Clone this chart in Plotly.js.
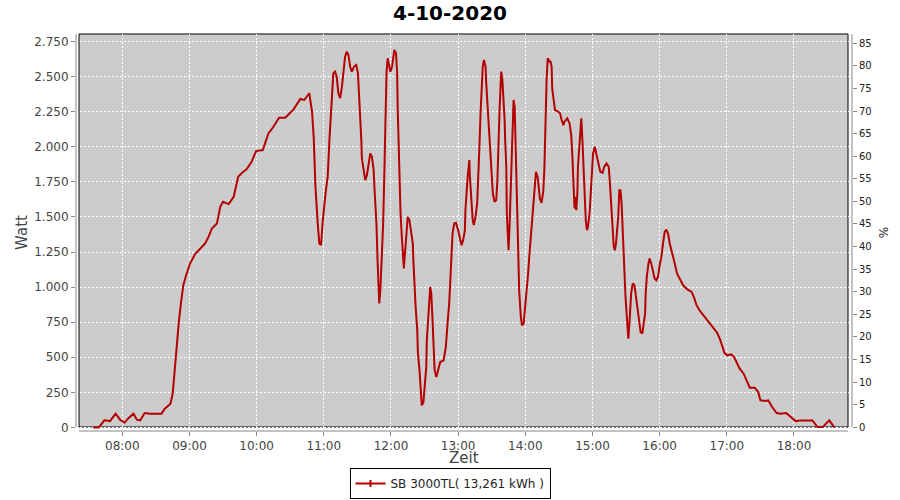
<!DOCTYPE html>
<html>
<head>
<meta charset="utf-8">
<script src="https://cdn.plot.ly/plotly-3.0.1.min.js"></script>
<style>html,body{margin:0;padding:0;background:#fff;}#chart{width:900px;height:500px;}</style>
</head>
<body>
<div id="chart"></div>
<script>
const day = '2020-10-04';
const times = ['07:34','07:39','07:44','07:49','07:54','07:58','08:02','08:05','08:10','08:13','08:16','08:20','08:25','08:35','08:38','08:43','08:45','08:46:30','08:48:30','08:50:30','08:52:30','08:54:30','08:57','09:00:30','09:05','09:10','09:14','09:17','09:19','09:20','09:24:30','09:27:30','09:30','09:35','09:39:30','09:43:30','09:47','09:51','09:55:30','09:59:30','10:05:30','10:10:30','10:15','10:20','10:25:30','10:33','10:39','10:42:30','10:47','10:49:30','10:51','10:52:30','10:54:30','10:56','10:57:30','10:59','11:01:30','11:03:30','11:05','11:07','11:08:30','11:10','11:11:30','11:13','11:14:30','11:16','11:17:30','11:19','11:20:30','11:22','11:23:30','11:25','11:27','11:29','11:30:30','11:31:30','11:32:30','11:33:30','11:34','11:35:30','11:37','11:38:30','11:40','11:41:30','11:43','11:44:30','11:45:30','11:47','11:48','11:49','11:49:30','11:50:30','11:51:30','11:53','11:54','11:55','11:56','11:57','11:58','11:59:30','12:01','12:02:30','12:03','12:04:30','12:05:30','12:06','12:07','12:07:30','12:08:30','12:09:30','12:10:30','12:11:30','12:12','12:13','12:14:30','12:15','12:16:30','12:18','12:19:30','12:20','12:21','12:22','12:23:30','12:24','12:25:30','12:26:30','12:27:30','12:29','12:30','12:31:30','12:32','12:33','12:34:30','12:35','12:36','12:37','12:38','12:39','12:40:30','12:42','12:44','12:47','12:49','12:50:30','12:52','12:53','12:54','12:55','12:56:30','12:58','13:00','13:01:30','13:03','13:04:30','13:06','13:06:30','13:07:30','13:08:30','13:09:30','13:10','13:10:30','13:11:30','13:13','13:14','13:15:30','13:17','13:18','13:19','13:20','13:21','13:22','13:23','13:24:30','13:25','13:26','13:27:30','13:28:30','13:29:30','13:30:30','13:31','13:32:30','13:34','13:35','13:35:30','13:36','13:37','13:38','13:38:30','13:39:30','13:40:30','13:41:30','13:42','13:43','13:43:30','13:44:30','13:45','13:46','13:47','13:48','13:48:30','13:49:30','13:50:30','13:51','13:52','13:53','13:54','13:54:30','13:56','13:57','13:58:30','14:00','14:01:30','14:02:30','14:03:30','14:05','14:06:30','14:07:30','14:08:30','14:09:30','14:11','14:12','14:13','14:14:30','14:16','14:17','14:17:30','14:18','14:19','14:20','14:21:30','14:22:30','14:23:30','14:24','14:25:30','14:26:30','14:28:30','14:31','14:32:30','14:34','14:35','14:37:30','14:39:30','14:41','14:42','14:42:30','14:43:30','14:44','14:45','14:45:30','14:46:30','14:47','14:48:30','14:49:30','14:50','14:51','14:52','14:53','14:54','14:55','14:56','14:57:30','14:58:30','14:59:30','15:00:30','15:02','15:03','15:04:30','15:06','15:07','15:09','15:10:30','15:12:30','15:14:30','15:15:30','15:16:30','15:17:30','15:18','15:19','15:20','15:21','15:22','15:23','15:24','15:25','15:26','15:27','15:27:30','15:28:30','15:29:30','15:30:30','15:31:30','15:32','15:33','15:33:30','15:34:30','15:36','15:37:30','15:38:30','15:39:30','15:41','15:42','15:43','15:44:30','15:45:30','15:47','15:47:30','15:48:30','15:50','15:51','15:52:30','15:54','15:55:30','15:57','15:58:30','16:00','16:01:30','16:03','16:04:30','16:06','16:07:30','16:09','16:11:30','16:13:30','16:15:30','16:18','16:21','16:24:30','16:28:30','16:30:30','16:33','16:36','16:39','16:42:30','16:45:30','16:48:30','16:51:30','16:54','16:56','16:58','17:00:30','17:04','17:06:30','17:09:30','17:11:30','17:15','17:17:30','17:20:30','17:25','17:28','17:30','17:34:30','17:37','17:40:30','17:44:30','17:48','17:53','17:57','18:01:30','18:06','18:16:30','18:21','18:25:30','18:31:30','18:36'];
const watts = [0,0,50,45,98,55,33,62,98,55,50,102,98,98,133,169,240,395,585,752,894,1013,1085,1168,1235,1275,1311,1358,1401,1418,1454,1572,1608,1592,1644,1786,1815,1839,1894,1970,1977,2096,2143,2207,2207,2267,2341,2334,2382,2250,2065,1720,1460,1311,1300,1465,1667,1791,2048,2322,2524,2536,2500,2382,2346,2417,2548,2643,2679,2655,2572,2536,2572,2584,2524,2382,2227,2048,1918,1834,1763,1798,1894,1953,1929,1834,1667,1454,1192,930,883,978,1168,1454,1786,2215,2524,2631,2584,2536,2572,2643,2691,2667,2524,2275,1977,1691,1537,1382,1204,1133,1192,1287,1406,1501,1477,1406,1311,1192,1001,859,692,537,407,264,157,181,276,430,621,787,930,1001,954,787,573,407,359,407,466,478,573,740,883,1049,1215,1382,1454,1458,1406,1347,1299,1335,1406,1549,1691,1786,1870,1906,1786,1644,1477,1442,1501,1597,1763,2001,2239,2417,2572,2619,2572,2465,2334,2191,2025,1882,1786,1667,1608,1620,1751,1906,2096,2262,2453,2536,2477,2357,2191,2048,1858,1525,1311,1263,1454,1763,2025,2215,2334,2286,2120,1906,1597,1215,978,787,728,740,859,978,1097,1215,1358,1501,1597,1739,1822,1786,1691,1632,1600,1680,1834,2048,2275,2477,2631,2608,2608,2572,2417,2334,2262,2255,2239,2191,2155,2179,2203,2167,2084,1941,1786,1644,1561,1644,1549,1667,1858,2072,2132,2203,2048,1834,1667,1477,1406,1430,1537,1691,1834,1953,2001,1965,1918,1858,1822,1815,1858,1882,1858,1751,1620,1489,1358,1287,1263,1311,1406,1501,1691,1691,1597,1406,1215,1073,930,811,669,633,740,859,954,1026,1013,954,883,811,716,680,669,716,811,954,1073,1168,1204,1168,1121,1061,1049,1073,1156,1215,1311,1394,1410,1382,1311,1240,1168,1097,1056,1013,985,966,930,871,830,799,769,740,709,673,626,573,530,514,521,502,455,419,383,335,283,283,252,193,188,193,145,102,98,102,74,45,50,50,2,2,50,0];
const seriesName = 'SB 3000TL( 13,261 kWh )';
const chartTitle = '4-10-2020';
const xTitle = 'Zeit';
const yTitle = 'Watt';
const y2Title = '%';

const xs = times.map(t => day + ' ' + (t.length === 5 ? t + ':00' : t));
const lineColor = '#b40000';

const traces = [
  {x: xs, y: watts, type: 'scatter', mode: 'lines', name: seriesName, showlegend: false,
   line: {color: lineColor, width: 2}, hoverinfo: 'x+y'},
  {x: [null], y: [null], type: 'scatter', mode: 'lines+markers', name: seriesName, showlegend: true,
   line: {color: lineColor, width: 2},
   marker: {symbol: 'line-ns-open', size: 5, color: lineColor, line: {color: lineColor, width: 2}},
   hoverinfo: 'skip'},
  {x: [xs[0]], y: [null], yaxis: 'y2', type: 'scatter', mode: 'lines', showlegend: false, hoverinfo: 'skip'}
];

const gridStyle = {showgrid: true, gridcolor: '#ffffff', gridwidth: 1, griddash: '2px,2px'};
const px0 = 3/776, px1 = 772/776, py0 = 4/397;

const layout = {
  width: 900, height: 500,
  margin: {l: 76, r: 48, t: 34, b: 69, autoexpand: false},
  paper_bgcolor: '#ffffff', plot_bgcolor: '#ffffff',
  separators: ',.',
  font: {family: 'DejaVu Sans, sans-serif', size: 12, color: '#444'},
  title: {text: chartTitle, x: 0.5, xref: 'container', xanchor: 'center', y: 1 - 13/500, yref: 'container', yanchor: 'middle',
          font: {family: 'DejaVu Sans, sans-serif', size: 20, color: '#000', weight: 'bold'}},
  showlegend: true,
  legend: {orientation: 'h', x: 0.5, xref: 'container', xanchor: 'center', y: 1 - 499/500, yref: 'container', yanchor: 'bottom',
           bgcolor: '#ffffff', bordercolor: '#000000', borderwidth: 1, font: {size: 12, color: '#222'}},
  xaxis: Object.assign({
    type: 'date', automargin: false,
    range: [day + ' 07:18:38', day + ' 18:51:49'],
    tickformat: '%H:%M', tick0: day + ' 08:00:00', dtick: 3600000,
    ticks: 'outside', ticklen: 4, tickcolor: '#888', tickwidth: 1,
    showline: false, zeroline: false,
    tickfont: {size: 12, color: '#444'}
  }, gridStyle),
  yaxis: Object.assign({
    automargin: false,
    range: [-25.7, 2804.4], tick0: 0, dtick: 250, tickformat: ',d',
    ticks: 'outside', ticklen: 4, tickcolor: '#888', tickwidth: 1,
    showline: false, zeroline: false,
    tickfont: {size: 12, color: '#444'},
    title: {text: yTitle, font: {size: 15, color: '#444'}, standoff: 2}
  }, gridStyle),
  yaxis2: {
    overlaying: 'y', side: 'right', automargin: false,
    range: [-0.82, 87.05], tick0: 0, dtick: 5,
    showgrid: false, zeroline: false, showline: false,
    ticks: 'outside', ticklen: 4, tickcolor: '#888', tickwidth: 1,
    tickfont: {size: 10, color: '#222'},
    title: {text: y2Title, font: {size: 12, color: '#222'}, standoff: 8}
  },
  annotations: [
    {text: xTitle, xref: 'paper', yref: 'paper', x: 0.5, y: (431 - 458) / 397, xanchor: 'center', yanchor: 'middle',
     showarrow: false, borderpad: 0, font: {size: 15, color: '#444'}}
  ],
  shapes: [
    {type: 'rect', xref: 'paper', yref: 'paper', x0: px0, x1: px1, y0: py0, y1: 1,
     fillcolor: '#cccccc', line: {width: 0}, layer: 'below'},
    {type: 'rect', xref: 'paper', yref: 'paper', x0: px0, x1: px1, y0: py0, y1: 1,
     fillcolor: 'rgba(0,0,0,0)', line: {color: '#000000', width: 1}, layer: 'between'},
    {type: 'line', xref: 'paper', yref: 'paper', x0: 0, x1: 0, y0: py0, y1: 1, line: {color: '#888', width: 1}},
    {type: 'line', xref: 'paper', yref: 'paper', x0: 1, x1: 1, y0: py0, y1: 1, line: {color: '#888', width: 1}},
    {type: 'line', xref: 'paper', yref: 'paper', x0: px0, x1: px1, y0: 0, y1: 0, line: {color: '#888', width: 1}}
  ]
};

Plotly.newPlot('chart', traces, layout, {displayModeBar: false, staticPlot: true});
</script>
</body>
</html>
